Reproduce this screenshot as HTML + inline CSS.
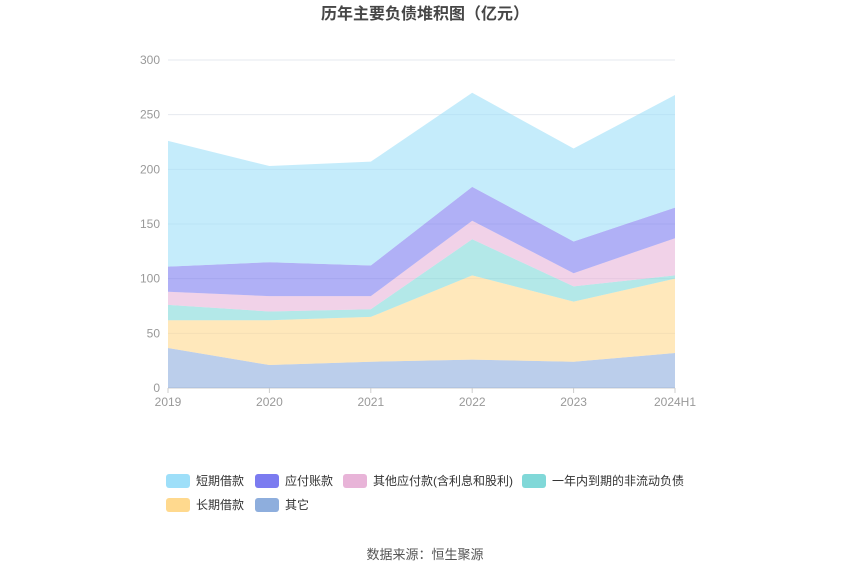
<!DOCTYPE html>
<html><head><meta charset="utf-8">
<style>
body{margin:0;background:#fff;font-family:"Liberation Sans","Noto Sans CJK SC",sans-serif;}
#wrap{position:relative;width:850px;height:575px;overflow:hidden;}
</style></head>
<body>
<div id="wrap">
<svg id="chart" width="850" height="575" xmlns="http://www.w3.org/2000/svg">
<text x="425" y="19" text-anchor="middle" font-size="16" font-weight="bold" fill="#464646">历年主要负债堆积图（亿元）</text>
<g id="grid"></g><g id="areas"></g><g id="axes"></g><g id="legend"></g>
<text x="425" y="559" text-anchor="middle" font-size="13" fill="#555">数据来源：恒生聚源</text>
</svg>
</div>
<script>
const categories = ["2019","2020","2021","2022","2023","2024H1"];
const yTicks = [0,50,100,150,200,250,300];
const seriesNames = ["其它","长期借款","一年内到期的非流动负债","其他应付款(含利息和股利)","应付账款","短期借款"];
const other = [36.6,21,24,26,24,32];
const longLoan = [25.4,41,41,77,55,68];
const currentNonCurrent = [14,8,7,33,14,3];
const otherPayables = [12,14,12,17,12,34];
const accountsPayable = [23,31,28,31,29,28];
const shortLoan = [115,88,95,86,85,103];
const seriesValues = [other,longLoan,currentNonCurrent,otherPayables,accountsPayable,shortLoan];
const colors = ["#8eaedd","#ffd98e","#80d8d8","#e8b4d8","#7b7bf0","#9edff9"];
const names = ["other-area","long-loan-area","current-noncurrent-area","other-payables-area","accounts-payable-area","short-loan-area"];
const NS="http://www.w3.org/2000/svg";
const x0=168,x1=675,yb=388,yt=60,ymax=300;
const xs=i=>x0+(x1-x0)*i/(categories.length-1);
const ys=v=>yb-(yb-yt)*v/ymax;
function mk(t,a,p){const e=document.createElementNS(NS,t);for(const k in a)e.setAttribute(k,a[k]);p.appendChild(e);return e;}
const grid=document.getElementById('grid'),axes=document.getElementById('axes'),areas=document.getElementById('areas'),legend=document.getElementById('legend');
yTicks.forEach(t=>{
 const l=mk('line',{x1:x0,x2:x1,y1:ys(t),y2:ys(t),stroke:t===0?'#ccc':'#e6e9ef','stroke-width':1},grid);
 
 
 const tx=mk('text',{x:160,y:ys(t)+4,'text-anchor':'end','font-size':12,fill:'#999'},axes);tx.textContent=t;
 
 
});
categories.forEach((c,i)=>{
 const tk=mk('line',{x1:xs(i),x2:xs(i),y1:yb,y2:yb+5,stroke:'#ccc'},axes);
 
 
 const tx=mk('text',{x:xs(i),y:yb+18,'text-anchor':'middle','font-size':12,fill:'#999'},axes);tx.textContent=c;
 
 
});
let base=categories.map(()=>0);
seriesValues.forEach((vals,s)=>{
 const top=base.map((b,i)=>b+vals[i]);
 let d='M'+top.map((v,i)=>xs(i)+','+ys(v)).join(' L');
 for(let i=categories.length-1;i>=0;i--)d+=' L'+xs(i)+','+ys(base[i]);
 d+=' Z';
 const p=mk('path',{d:d,fill:colors[s],'fill-opacity':0.6,stroke:'none'},areas);
 
 
 base=top;
});
const legOrder=[5,4,3,2,1,0];
const legPos=[[166,481],[255,481],[343,481],[522,481],[166,505],[255,505]];
legOrder.forEach((s,k)=>{
 const [lx,ly]=legPos[k];
 const g=mk('g',{},legend);
 
 
 mk('rect',{x:lx,y:ly-7,width:24,height:14,rx:3,fill:colors[s]},g);
 const t=mk('text',{x:lx+30,y:ly+4,'font-size':12,fill:'#333'},g);t.textContent=seriesNames[s];
});
</script>
</body></html>
